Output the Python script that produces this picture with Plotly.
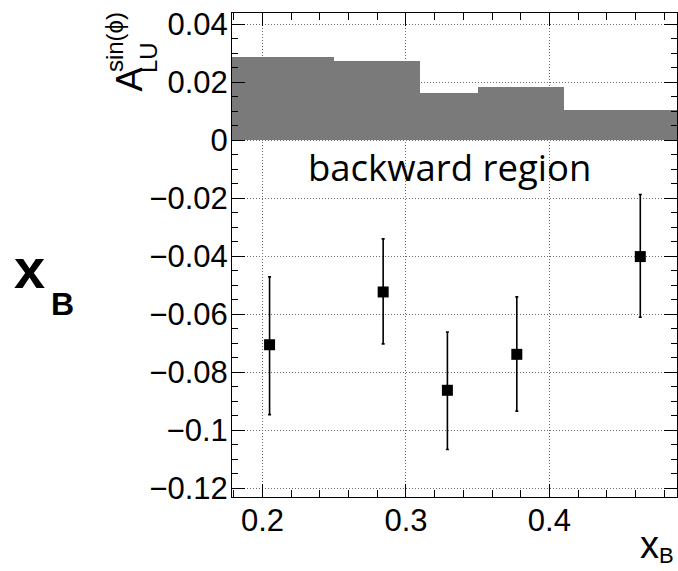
import plotly.graph_objects as go

# Systematic-uncertainty band (per x_B bin) and measured asymmetry points
bin_edges = [0.17, 0.25, 0.31, 0.35, 0.41, 0.50]
sys_band = [0.0287, 0.0272, 0.0164, 0.0184, 0.0103]

x_b = [0.2049, 0.2841, 0.3289, 0.3773, 0.4634]
a_lu = [-0.0705, -0.0523, -0.0862, -0.0738, -0.0401]
err_up = [0.0234, 0.0183, 0.0201, 0.0198, 0.0214]
err_dn = [0.0241, 0.0179, 0.0204, 0.0196, 0.0209]

y_ticks = [0.04, 0.02, 0, -0.02, -0.04, -0.06, -0.08, -0.1, -0.12]
y_tick_text = ["0.04", "0.02", "0", "\u22120.02", "\u22120.04", "\u22120.06",
               "\u22120.08", "\u22120.1", "\u22120.12"]
x_ticks = [0.2, 0.3, 0.4]
x_tick_text = ["0.2", "0.3", "0.4"]

W, H = 678, 571
L, R, T, B = 232, 1, 13, 74
PW, PH = W - L - R, H - T - B


def px(x):
    return (x - L) / PW


def py(y):
    return (H - B - y) / PH


centers = [(a + b) / 2 for a, b in zip(bin_edges[:-1], bin_edges[1:])]
widths = [b - a for a, b in zip(bin_edges[:-1], bin_edges[1:])]

fig = go.Figure()
fig.add_trace(go.Bar(
    x=centers, y=sys_band, width=widths, base=0,
    marker=dict(color="#7a7a7a", line=dict(width=0)),
    hoverinfo="skip",
))
fig.add_trace(go.Scatter(
    x=x_b, y=a_lu, mode="markers",
    marker=dict(symbol="square", size=11, color="black"),
    error_y=dict(type="data", symmetric=False, array=err_up, arrayminus=err_dn,
                 color="black", thickness=1.6, width=1.5),
))

font = "Liberation Sans, Arial, sans-serif"
axis_common = dict(
    showline=True, linecolor="black", linewidth=1, mirror="allticks",
    ticks="inside", tickcolor="black", tickwidth=1,
    showgrid=True, gridcolor="#6a6a6a", gridwidth=1, griddash="1px,2px",
    zeroline=False, layer="above traces",
    tickfont=dict(family=font, size=31, color="black"),
)

fig.update_xaxes(
    range=[0.1787, 0.489], tickvals=x_ticks, ticktext=x_tick_text, ticklen=13,
    ticklabelstandoff=-4,
    minor=dict(dtick=0.02, tick0=0.2, ticks="inside", ticklen=7,
               tickcolor="black", showgrid=False),
    **axis_common,
)
fig.update_yaxes(
    range=[-0.123, 0.0439], tickvals=y_ticks, ticktext=y_tick_text, ticklen=13,
    ticklabelstandoff=-3,
    minor=dict(dtick=0.005, tick0=0, ticks="inside", ticklen=6,
               tickcolor="black", showgrid=False),
    **axis_common,
)

ann = []
# axis titles
ann.append(dict(text="x", font=dict(family=font, size=38, color="black"),
                x=px(638), y=py(545), xanchor="left", yanchor="middle"))
ann.append(dict(text="B", font=dict(family=font, size=22, color="black"),
                x=px(657), y=py(555), xanchor="left", yanchor="middle"))
ann.append(dict(text="A", textangle=-90, font=dict(family=font, size=36, color="black"),
                x=px(129.4), y=py(79), xanchor="center", yanchor="middle"))
ann.append(dict(text="LU", textangle=-90, font=dict(family=font, size=24, color="black"),
                x=px(148.6), y=py(57.5), xanchor="center", yanchor="middle"))
ann.append(dict(text="sin(\u03d5)", textangle=-90, font=dict(family=font, size=24, color="black"),
                x=px(114.6), y=py(42.5), xanchor="center", yanchor="middle"))
# region label
ann.append(dict(text="backward region", font=dict(family="Open Sans", size=36.5, color="black"),
                x=px(449.5), y=py(166.5), xanchor="center", yanchor="middle"))
# variable label
ann.append(dict(text="<b>x</b>", font=dict(family=font, size=56, color="black"),
                x=px(12), y=py(268.4), xanchor="left", yanchor="middle"))
ann.append(dict(text="<b>B</b>", font=dict(family=font, size=32, color="black"),
                x=px(49), y=py(303.8), xanchor="left", yanchor="middle"))
for a in ann:
    a.update(xref="paper", yref="paper", showarrow=False)

fig.update_layout(
    width=W, height=H, margin=dict(l=L, r=R, t=T, b=B),
    paper_bgcolor="white", plot_bgcolor="white",
    showlegend=False, annotations=ann, bargap=0,
)

fig.write_html("out.html")
